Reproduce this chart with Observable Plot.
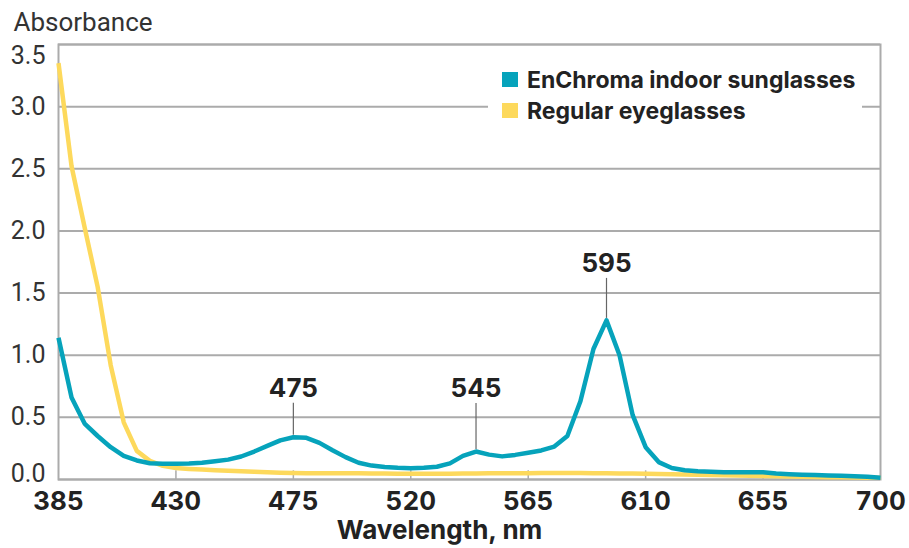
<!DOCTYPE html>
<html>
<head>
<meta charset="utf-8">
<script src="https://cdn.jsdelivr.net/npm/d3@7"></script>
<script src="https://cdn.jsdelivr.net/npm/@observablehq/plot@0.6"></script>
<style>
  html, body { margin: 0; padding: 0; background: #fff; }
  #chart { width: 909px; height: 548px; }
</style>
</head>
<body>
<div id="chart"></div>
<script>
// Absorbance spectra, sampled every 5 nm
const wavelengths = [
  385, 390, 395, 400, 405, 410, 415, 420, 425, 430, 435, 440, 445, 450, 455, 460,
  465, 470, 475, 480, 485, 490, 495, 500, 505, 510, 515, 520, 525, 530, 535, 540,
  545, 550, 555, 560, 565, 570, 575, 580, 585, 590, 595, 600, 605, 610, 615, 620,
  625, 630, 635, 640, 645, 650, 655, 660, 665, 670, 675, 680, 685, 690, 695, 700
];
const enchroma = [
  1.14, 0.66, 0.45, 0.35, 0.26, 0.19, 0.153, 0.131, 0.127, 0.126, 0.129, 0.135, 0.147, 0.16, 0.185, 0.225,
  0.27, 0.315, 0.34, 0.335, 0.295, 0.235, 0.18, 0.135, 0.112, 0.1, 0.094, 0.091, 0.094, 0.103, 0.13, 0.19,
  0.225, 0.2, 0.186, 0.198, 0.215, 0.234, 0.265, 0.35, 0.63, 1.05, 1.28, 1.0, 0.52, 0.26, 0.14, 0.092,
  0.075, 0.066, 0.062, 0.059, 0.059, 0.059, 0.058, 0.048, 0.043, 0.039, 0.036, 0.033, 0.03, 0.027, 0.023, 0.014
];
const regular = [
  3.35, 2.52, 2.03, 1.55, 0.92, 0.46, 0.23, 0.15, 0.11, 0.092, 0.085, 0.08, 0.075, 0.07, 0.066, 0.062,
  0.058, 0.055, 0.052, 0.05, 0.05, 0.05, 0.05, 0.05, 0.049, 0.048, 0.047, 0.046, 0.046, 0.046, 0.047, 0.048,
  0.049, 0.05, 0.05, 0.051, 0.051, 0.052, 0.052, 0.052, 0.052, 0.051, 0.05, 0.049, 0.048, 0.046, 0.045, 0.043,
  0.041, 0.039, 0.037, 0.035, 0.033, 0.031, 0.029, 0.027, 0.025, 0.023, 0.021, 0.019, 0.018, 0.016, 0.015, 0.014
];
const seriesNames = ["EnChroma indoor sunglasses", "Regular eyeglasses"];
const seriesColors = ["#06a3bb", "#fdd95c"];
const peakWavelengths = [475, 545, 595];
const xTicks = [385, 430, 475, 520, 565, 610, 655, 700];
const yTicks = [0, 0.5, 1, 1.5, 2, 2.5, 3, 3.5];

// Long-format table for the line marks
const rows = [];
wavelengths.forEach((w, i) => {
  rows.push({wavelength: w, absorbance: regular[i], series: seriesNames[1]});
});
wavelengths.forEach((w, i) => {
  rows.push({wavelength: w, absorbance: enchroma[i], series: seriesNames[0]});
});

// Peak callouts sit on the EnChroma curve
const peaks = peakWavelengths.map(w => ({wavelength: w, absorbance: enchroma[wavelengths.indexOf(w)]}));
const calloutLift = [34, 48, 42]; // leader length in px, per peak

const grid = "#ababab";
const bold = "Inter, Roboto, sans-serif";

// Legend drawn in frame pixel space, with a white backing over the grid
function legend(index, scales, values, dims) {
  const g = d3.create("svg:g").attr("text-anchor", "start");
  const x0 = dims.width - dims.marginRight - 378;
  const y0 = dims.marginTop + 28;
  g.append("rect")
    .attr("x", x0 - 14).attr("y", y0 - 14)
    .attr("width", 374).attr("height", 66)
    .attr("fill", "#fff");
  seriesNames.forEach((name, i) => {
    const yy = y0 + i * 31;
    g.append("rect")
      .attr("x", x0).attr("y", yy).attr("width", 16).attr("height", 15)
      .attr("fill", seriesColors[i]);
    g.append("text")
      .attr("x", x0 + 25).attr("y", yy + 7.5).attr("dy", "0.35em")
      .attr("text-anchor", "start")
      .attr("font-family", bold).attr("font-weight", 700).attr("font-size", 23)
      .attr("fill", "#222")
      .text(name);
  });
  return g.node();
}

const yAxisStyle = {tickSize: 0, tickPadding: 13, fontSize: 25, fill: "#333",
  tickFormat: d3.format(".1f"), label: null};

const chart = Plot.plot({
  width: 909,
  height: 548,
  marginLeft: 58,
  marginRight: 29,
  marginTop: 44,
  marginBottom: 69,
  style: {fontFamily: "Roboto, sans-serif", background: "#fff"},
  x: {domain: [385, 700]},
  y: {domain: [0, 3.5]},
  color: {domain: seriesNames, range: seriesColors},
  marks: [
    Plot.gridY(yTicks, {stroke: grid, strokeOpacity: 1, strokeWidth: 2}),
    Plot.frame({stroke: grid, strokeWidth: 2}),
    Plot.ruleX(xTicks.slice(1, -1), {y1: 0, y2: 0.07, stroke: grid, strokeWidth: 1.5}),
    Plot.axisX({ticks: xTicks, tickSize: 0, tickPadding: 12, fontSize: 26, fontWeight: 700,
      fontFamily: bold, fill: "#222", label: null}),
    // end labels are nudged inside the frame
    Plot.axisY({...yAxisStyle, ticks: yTicks.slice(1, -1)}),
    Plot.axisY({...yAxisStyle, ticks: yTicks.slice(0, 1), dy: -6}),
    Plot.axisY({...yAxisStyle, ticks: yTicks.slice(-1), dy: 11}),
    Plot.text(["Absorbance"], {frameAnchor: "top-left", dx: -45, dy: -22, textAnchor: "start",
      lineAnchor: "middle", fontSize: 26, fill: "#333"}),
    Plot.text(["Wavelength, nm"], {frameAnchor: "bottom", dx: -30, dy: 51, lineAnchor: "middle",
      fontSize: 26, fontWeight: 700, fontFamily: bold, fill: "#222"}),
    ...peaks.map((p, i) => [
      Plot.ruleX([p], {x: "wavelength", y1: "absorbance", y2: "absorbance",
        insetTop: -calloutLift[i], insetBottom: 2, stroke: "#666", strokeWidth: 1.2}),
      Plot.text([p], {x: "wavelength", y: "absorbance", text: d => String(d.wavelength),
        dy: -calloutLift[i] - 15, lineAnchor: "middle", fontSize: 26, fontWeight: 700,
        fontFamily: bold, fill: "#222"})
    ]).flat(),
    Plot.line(rows, {x: "wavelength", y: "absorbance", z: "series", stroke: "series",
      strokeWidth: 4.5, strokeLinejoin: "round", strokeLinecap: "butt"}),
    legend
  ]
});

document.getElementById("chart").append(chart);
</script>
</body>
</html>
